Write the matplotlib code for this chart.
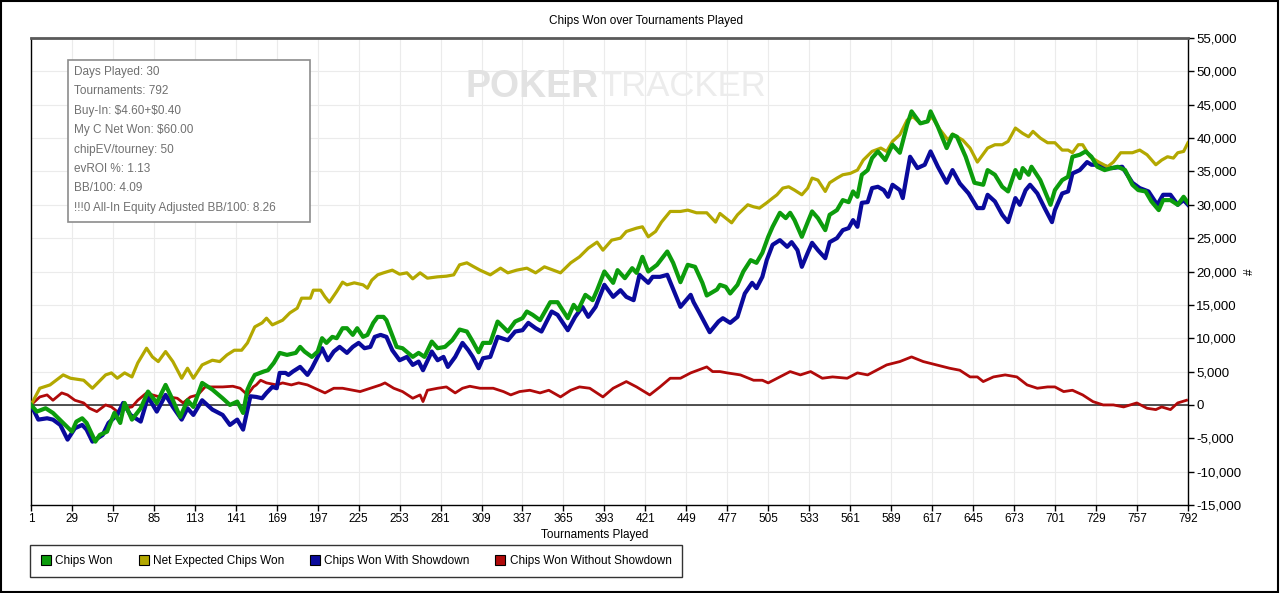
import matplotlib
matplotlib.use("Agg")
import matplotlib.pyplot as plt
from matplotlib.patches import Rectangle
from matplotlib.lines import Line2D
from matplotlib.ticker import FuncFormatter

plt.rcParams['font.family'] = ['Liberation Sans', 'DejaVu Sans']

# ---- data (tournament number, chips) ----
won_x = [1, 5, 11, 16, 23, 29, 32, 36, 39, 45, 48, 53, 58, 62, 65, 70, 76, 81, 87, 93,
         98, 103, 108, 112, 118, 125, 132, 137, 142, 146, 149, 151, 154, 160, 163, 167,
         171, 176, 182, 185, 188, 193, 197, 200, 203, 207, 210, 214, 217, 221, 224, 228,
         231, 235, 238, 242, 244, 251, 255, 262, 266, 270, 275, 279, 284, 289, 294, 299,
         303, 307, 310, 315, 320, 327, 332, 337, 340, 344, 349, 356, 361, 368, 372, 375,
         380, 385, 388, 393, 399, 402, 407, 412, 415, 419, 423, 429, 436, 440, 445, 450,
         455, 460, 463, 470, 472, 476, 479, 484, 488, 493, 497, 501, 505, 508, 513, 517,
         520, 523, 528, 532, 535, 539, 544, 547, 552, 556, 560, 563, 566, 569, 573, 576,
         580, 585, 590, 595, 600, 603, 609, 614, 616, 621, 627, 631, 634, 640, 646, 652,
         655, 660, 665, 669, 674, 677, 679, 683, 685, 691, 698, 701, 706, 710, 713, 718,
         722, 726, 730, 735, 740, 744, 749, 754, 758, 763, 767, 772, 775, 780, 785, 789, 792]
won_y = [0, -1000, -500, -1200, -2700, -4000, -2500, -2000, -2700, -5500, -4500, -4000,
         -1200, -2700, 300, -2200, -500, 2000, 300, 3000, 700, -1800, 700, -300, 3300, 2300,
         1000, 0, 500, -1200, 2300, 3300, 4500, 5000, 5200, 6300, 7800, 7500, 7800, 8700,
         8000, 7200, 8000, 10000, 9300, 10200, 10000, 11500, 11500, 10500, 11500, 10200,
         10500, 12300, 13200, 13200, 12700, 8700, 8500, 7200, 7800, 7200, 9500, 8500, 8700,
         9700, 11300, 11000, 9500, 7900, 9300, 9300, 12500, 11000, 12500, 13000, 14000,
         13500, 12700, 15400, 15400, 13000, 15000, 14200, 16500, 15700, 17200, 20000, 18300,
         20200, 19000, 20500, 19800, 22200, 20000, 21000, 23000, 21300, 18400, 21000, 20700,
         18300, 16400, 17300, 18000, 17700, 16700, 18000, 20000, 21700, 21300, 22800, 25200,
         26700, 28800, 28000, 28800, 27700, 25200, 27400, 29000, 28000, 26200, 28500, 29200,
         30700, 30400, 32000, 31200, 34500, 35200, 37000, 38000, 36700, 39000, 37800, 42000,
         44000, 42200, 42500, 44000, 41700, 38500, 40500, 40200, 37200, 33300, 33000, 35200,
         34500, 32700, 32000, 35200, 34000, 35500, 34500, 35700, 33700, 30000, 32200, 33700,
         34200, 37200, 37500, 38000, 37200, 35700, 35200, 35500, 35700, 35200, 33000, 32200,
         32000, 30500, 29200, 30700, 30700, 30000, 31200, 30300]

ev_x = [1, 7, 14, 23, 28, 37, 43, 52, 56, 60, 65, 70, 74, 80, 84, 88, 93, 98, 104, 108,
        112, 118, 125, 130, 135, 140, 145, 149, 154, 159, 162, 166, 173, 178, 183, 186,
        192, 194, 199, 202, 205, 210, 214, 217, 222, 228, 231, 234, 238, 242, 248, 253,
        258, 262, 267, 272, 279, 285, 290, 294, 299, 303, 308, 315, 322, 327, 333, 340,
        346, 352, 358, 363, 370, 376, 382, 388, 392, 398, 404, 408, 415, 419, 423, 428,
        432, 438, 445, 450, 456, 463, 469, 472, 476, 480, 484, 491, 495, 499, 504, 508,
        511, 515, 519, 523, 528, 532, 535, 539, 544, 547, 552, 556, 561, 566, 570, 576,
        582, 586, 590, 595, 600, 604, 609, 614, 617, 622, 628, 631, 638, 643, 648, 655,
        660, 665, 669, 674, 679, 683, 686, 691, 696, 701, 706, 710, 713, 717, 720, 725,
        731, 737, 741, 746, 750, 754, 759, 764, 770, 774, 778, 782, 785, 789, 792]
ev_y = [0, 2500, 3000, 4500, 4000, 3700, 2500, 4500, 4800, 4000, 4800, 4200, 6300, 8500,
        7200, 6500, 8000, 6500, 4000, 5500, 4000, 6000, 6700, 6500, 7500, 8200, 8200, 9300,
        11700, 12300, 13000, 12000, 12700, 13800, 14500, 16000, 16000, 17200, 17200, 16200,
        15400, 17000, 18400, 18000, 18300, 18000, 17500, 18700, 19500, 19800, 20200, 19600,
        19800, 18900, 19800, 19000, 19200, 19300, 19500, 21000, 21300, 20800, 20200, 19500,
        20500, 19800, 20200, 20500, 19800, 20700, 20200, 19800, 21300, 22200, 23500, 24400,
        23200, 24700, 25000, 26000, 26500, 26700, 25200, 26000, 27400, 29000, 29000, 29200,
        28800, 28800, 27400, 28700, 28000, 27300, 28500, 30000, 29700, 29500, 30300, 31000,
        31500, 32500, 32700, 32200, 31500, 32500, 34000, 33700, 32000, 33300, 34000, 34500,
        34700, 35200, 36700, 38000, 38500, 38000, 39500, 40500, 42700, 43200, 42200, 42500,
        43200, 41400, 39700, 40600, 39700, 38500, 36400, 38500, 39000, 39000, 39500, 41500,
        40700, 40200, 41000, 40000, 39300, 39300, 38200, 38200, 37800, 39000, 39000, 37200,
        36400, 35700, 36400, 37800, 37800, 37800, 38200, 37500, 36000, 36700, 37200, 37000,
        37800, 38000, 39300]

sd_x = [1, 6, 12, 16, 21, 26, 31, 36, 39, 43, 50, 54, 60, 64, 69, 76, 81, 87, 93, 98, 104,
        108, 112, 118, 125, 132, 137, 142, 146, 151, 155, 159, 162, 166, 169, 171, 175, 177,
        180, 185, 190, 193, 197, 200, 204, 208, 212, 217, 221, 225, 229, 233, 236, 240, 244,
        248, 253, 258, 262, 266, 269, 275, 279, 283, 286, 291, 296, 300, 303, 307, 310, 315,
        320, 327, 332, 337, 341, 346, 350, 357, 361, 368, 373, 378, 382, 387, 393, 399, 404,
        408, 413, 417, 423, 426, 431, 436, 445, 452, 454, 458, 465, 471, 474, 479, 484, 489,
        494, 497, 501, 504, 508, 513, 518, 521, 525, 528, 532, 535, 539, 544, 547, 552, 556,
        560, 563, 566, 569, 573, 576, 580, 584, 587, 590, 595, 597, 602, 607, 612, 616, 621,
        627, 631, 636, 642, 648, 652, 655, 660, 665, 669, 674, 677, 681, 684, 689, 694, 699,
        701, 706, 710, 713, 718, 723, 726, 730, 740, 747, 754, 759, 765, 771, 775, 780, 785,
        789, 792]
sd_y = [0, -2200, -2000, -2200, -3000, -5200, -3500, -3000, -3700, -5500, -4500, -2700,
        -1500, 300, -1500, -2500, 1200, -1000, 1500, -300, -2200, -500, -1500, 700, -700,
        -1500, -3000, -2200, -3700, 1300, 1200, 1000, 1800, 2700, 2500, 4800, 4800, 4500,
        5000, 5700, 4500, 5500, 7200, 8500, 6700, 8000, 8700, 7800, 8700, 9300, 8500, 8700,
        10200, 10500, 10200, 8200, 6700, 7200, 6000, 6500, 5200, 8000, 6700, 7200, 5700,
        7200, 9300, 8200, 7200, 5500, 7000, 7200, 10200, 9700, 11000, 11200, 12300, 11500,
        11000, 14000, 13500, 11200, 13200, 14700, 13200, 14700, 18000, 16200, 17200, 16200,
        15700, 19500, 18300, 19200, 19200, 19500, 14700, 16500, 15400, 13800, 10900, 12500,
        13000, 12300, 13200, 16700, 18300, 17500, 19200, 21700, 24000, 24700, 23700, 24400,
        23200, 20700, 22800, 24300, 23200, 22000, 24400, 25000, 26200, 26500, 27700, 26700,
        30300, 30400, 32500, 32700, 32200, 31200, 33000, 32200, 31000, 37200, 35500, 36000,
        38000, 35700, 33300, 35200, 33200, 31700, 29500, 29500, 31500, 30500, 28500, 27400,
        31000, 30000, 32200, 33000, 31700, 29500, 27400, 29200, 31700, 32000, 34700, 35200,
        36400, 36000, 36000, 35500, 35700, 33300, 32500, 32000, 30000, 31500, 31500, 30000,
        30700, 30000]

nosd_x = [1, 7, 12, 16, 22, 26, 31, 37, 41, 46, 52, 56, 60, 65, 70, 74, 80, 84, 89, 95,
          101, 105, 110, 115, 120, 125, 132, 139, 144, 149, 153, 155, 158, 162, 169, 173,
          179, 184, 190, 195, 202, 208, 214, 221, 226, 233, 240, 243, 249, 255, 262, 267,
          269, 272, 279, 285, 291, 296, 301, 308, 317, 324, 329, 335, 342, 349, 355, 363,
          370, 376, 383, 392, 399, 408, 415, 424, 431, 438, 445, 452, 458, 463, 467, 472,
          477, 486, 495, 501, 505, 513, 520, 527, 534, 542, 549, 559, 566, 573, 579, 586,
          595, 603, 611, 620, 629, 636, 643, 648, 652, 659, 667, 675, 682, 689, 696, 701,
          707, 713, 720, 727, 734, 741, 748, 757, 764, 770, 774, 780, 785, 791]
nosd_y = [0, 1200, 1500, 700, 1800, 1500, 700, 300, -500, -1000, 0, -300, -1000, -500,
          -300, 700, 1800, 1500, 1200, 1200, 1000, 300, 1200, 1500, 2700, 2700, 2700, 2800,
          2500, 1500, 2700, 3000, 3700, 3300, 3000, 3300, 3000, 3300, 3000, 2500, 1800, 2500,
          2500, 2200, 2000, 2500, 3000, 3300, 2500, 2000, 1000, 1500, 500, 2200, 2500, 2700,
          1800, 2500, 2800, 2500, 2500, 2000, 1500, 2000, 2200, 1800, 2200, 1200, 2200, 2700,
          2500, 1200, 2500, 3500, 2700, 1500, 2700, 4000, 4000, 4800, 5300, 5700, 5000, 5000,
          4800, 4500, 3700, 3700, 3300, 4200, 5000, 4500, 5000, 4000, 4200, 4000, 4800, 4500,
          5200, 6000, 6500, 7200, 6500, 6000, 5500, 5200, 4200, 4200, 3500, 4200, 4500, 4200,
          3000, 2500, 2700, 2700, 2000, 2200, 1500, 500, 0, 0, -300, 300, -500, -700, -300,
          -700, 300, 700]

x_ticks = [1, 29, 57, 85, 113, 141, 169, 197, 225, 253, 281, 309, 337, 365, 393, 421,
           449, 477, 505, 533, 561, 589, 617, 645, 673, 701, 729, 757, 792]

info_lines = ["Days Played: 30", "Tournaments: 792", "Buy-In: $4.60+$0.40",
              "My C Net Won: $60.00", "chipEV/tourney: 50", "evROI %: 1.13",
              "BB/100: 4.09", "!!!0 All-In Equity Adjusted BB/100: 8.26"]

series = [
    ("Chips Won", "#0c9c0c"),
    ("Net Expected Chips Won", "#b3a800"),
    ("Chips Won With Showdown", "#0a0a9c"),
    ("Chips Won Without Showdown", "#b00a0a"),
]

fig = plt.figure(figsize=(12.8, 5.93), dpi=100)
ax = fig.add_axes([31 / 1280, 1 - 505 / 593, (1188 - 31) / 1280, (505 - 38) / 593])

# draw order: red, blue, yellow, green on top
ax.plot(nosd_x, nosd_y, color=series[3][1], lw=2.0, zorder=3)
ax.plot(sd_x, sd_y, color=series[2][1], lw=3.0, zorder=4)
ax.plot(ev_x, ev_y, color=series[1][1], lw=2.3, zorder=5)
ax.plot(won_x, won_y, color=series[0][1], lw=3.0, zorder=6)
ax.axhline(0, color="#222222", lw=1.1, zorder=2)

ax.set_xlim(1, 792)
ax.set_ylim(-15000, 55000)
ax.set_xticks(x_ticks)
ax.set_yticks(range(-15000, 55001, 5000))
ax.yaxis.set_major_formatter(FuncFormatter(lambda v, p: f"{int(v):,}"))
ax.yaxis.tick_right()
ax.tick_params(axis="both", direction="out", length=4, width=1, colors="black",
               labelsize=8.5, pad=2)
ax.tick_params(axis="y", labelsize=9.5)
ax.grid(True, color="#ebebeb", lw=0.8)
ax.set_axisbelow(True)

for s in ["left", "right", "bottom"]:
    ax.spines[s].set_color("black")
    ax.spines[s].set_linewidth(1.0)
ax.spines["top"].set_color("#5a5a5a")
ax.spines["top"].set_linewidth(2.0)

# watermark
fig.text(465 / 1280, 1 - 87 / 593, "POKER", fontsize=27, fontweight="bold",
         color="#e2e2e2", va="center", ha="left", zorder=0)
fig.text(600 / 1280, 1 - 87 / 593, "TRACKER", fontsize=25, color="#ececec",
         va="center", ha="left", zorder=0)

# info box
fig.patches.append(Rectangle((68 / 1280, 1 - 222 / 593), (310 - 68) / 1280, (222 - 60) / 593,
                             transform=fig.transFigure, fc="white", ec="#8c8c8c", lw=1.2,
                             zorder=1))
for i, line in enumerate(info_lines):
    fig.text(74 / 1280, 1 - (72 + i * 19.4) / 593, line, fontsize=8.5, color="#707070",
             va="center", ha="left", zorder=2, parse_math=False)

# titles
fig.text(646 / 1280, 1 - 21 / 593, "Chips Won over Tournaments Played", fontsize=8.5,
         ha="center", va="center")
fig.text(595 / 1280, 1 - 535 / 593, "Tournaments Played", fontsize=8.5,
         ha="center", va="center")
fig.text(1250 / 1280, 1 - 272 / 593, "#", fontsize=8.5, ha="center", va="center",
         rotation=90)

# legend
handles = [Line2D([], [], marker="s", ls="none", markersize=7, markerfacecolor=c,
                  markeredgecolor="black", markeredgewidth=0.8) for _, c in series]
leg = fig.legend(handles, [n for n, _ in series], loc="upper left",
                 bbox_to_anchor=(30 / 1280, 1 - 545 / 593), borderaxespad=0, ncol=4,
                 fontsize=8.5, frameon=True, fancybox=False, edgecolor="black",
                 handletextpad=0.3, handlelength=1.0, columnspacing=2.1, borderpad=0.85)
leg.get_frame().set_linewidth(1.0)

# outer border
fig.patches.append(Rectangle((0.0008, 0.0015), 0.998, 0.997, transform=fig.transFigure,
                             fill=False, ec="black", lw=1.5))

fig.savefig("out.png", dpi=100)
